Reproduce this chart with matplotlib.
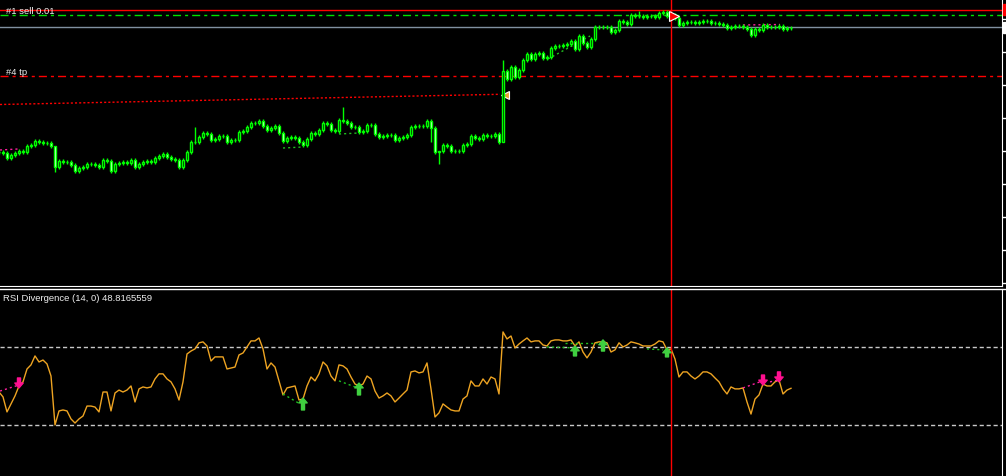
import numpy as np
import matplotlib
matplotlib.use("Agg")
import matplotlib.pyplot as plt
from matplotlib.patches import Rectangle
from matplotlib.lines import Line2D

W, H = 1006, 477

# close prices, one per bar (open = previous close)
closes = [
    1.1134, 1.1133, 1.1128, 1.1131, 1.1133, 1.1135, 1.1134, 1.1140, 1.1141, 1.1145,
    1.1144, 1.1143, 1.1143, 1.1140, 1.1119, 1.1125, 1.1124, 1.1124, 1.1121, 1.1115,
    1.1118, 1.1119, 1.1122, 1.1122, 1.1121, 1.1119, 1.1126, 1.1125, 1.1115, 1.1122,
    1.1123, 1.1124, 1.1123, 1.1126, 1.1119, 1.1122, 1.1124, 1.1125, 1.1124, 1.1128,
    1.1130, 1.1132, 1.1129, 1.1127, 1.1126, 1.1119, 1.1126, 1.1134, 1.1144, 1.1144,
    1.1149, 1.1153, 1.1152, 1.1146, 1.1147, 1.1150, 1.1150, 1.1144, 1.1146, 1.1146,
    1.1154, 1.1155, 1.1159, 1.1163, 1.1163, 1.1165, 1.1160, 1.1156, 1.1158, 1.1160,
    1.1153, 1.1145, 1.1148, 1.1149, 1.1148, 1.1144, 1.1141, 1.1147, 1.1153, 1.1152,
    1.1156, 1.1163, 1.1162, 1.1156, 1.1155, 1.1166, 1.1165, 1.1163, 1.1159, 1.1159,
    1.1154, 1.1155, 1.1161, 1.1161, 1.1152, 1.1149, 1.1150, 1.1151, 1.1151, 1.1146,
    1.1148, 1.1149, 1.1151, 1.1159, 1.1160, 1.1160, 1.1160, 1.1165, 1.1158, 1.1134,
    1.1135, 1.1141, 1.1140, 1.1135, 1.1135, 1.1135, 1.1141, 1.1142, 1.1150, 1.1148,
    1.1147, 1.1151, 1.1150, 1.1150, 1.1152, 1.1144, 1.1215, 1.1207, 1.1219, 1.1209,
    1.1216, 1.1226, 1.1232, 1.1227, 1.1232, 1.1233, 1.1228, 1.1229, 1.1238, 1.1240,
    1.1240, 1.1241, 1.1242, 1.1245, 1.1237, 1.1250, 1.1243, 1.1239, 1.1247, 1.1259,
    1.1259, 1.1259, 1.1259, 1.1254, 1.1256, 1.1265, 1.1264, 1.1262, 1.1271, 1.1270,
    1.1270, 1.1269, 1.1270, 1.1270, 1.1269, 1.1273, 1.1274, 1.1270, 1.1271, 1.1268,
    1.1261, 1.1263, 1.1264, 1.1264, 1.1263, 1.1264, 1.1265, 1.1265, 1.1263, 1.1263,
    1.1262, 1.1261, 1.1258, 1.1259, 1.1260, 1.1260, 1.1259, 1.1257, 1.1251, 1.1257,
    1.1256, 1.1261, 1.1259, 1.1259, 1.1259, 1.1260, 1.1257, 1.1258, 1.1258,
]

# bars with long shadows: index -> (high, low)
long_wicks = {
    14: (1.1140, 1.1114),
    49: (1.1159, 1.1142),
    86: (1.1179, 1.1163),
    108: (1.1167, 1.1144),
    110: (1.1135, 1.1122),
    126: (1.1226, 1.1144),
    160: (1.1275, 1.1268),
}

rsi = [
    46.9, 44.4, 36.7, 40.8, 44.9, 50.0, 52.1, 58.7, 60.8, 65.4,
    62.3, 63.3, 61.3, 55.1, 30.0, 37.2, 37.7, 37.2, 33.1, 31.0,
    33.1, 34.6, 39.7, 39.7, 39.2, 36.7, 46.9, 46.9, 37.2, 46.4,
    47.9, 46.9, 47.9, 50.0, 41.8, 48.5, 49.5, 49.0, 49.5, 53.6,
    56.2, 56.2, 53.6, 52.1, 48.5, 42.8, 52.1, 66.4, 67.9, 69.0,
    72.1, 72.6, 70.5, 62.8, 64.9, 64.9, 64.9, 58.7, 59.2, 59.7,
    65.9, 66.9, 70.0, 73.1, 73.1, 74.6, 69.0, 58.7, 61.8, 59.7,
    52.6, 45.4, 49.0, 49.5, 50.0, 42.8, 43.3, 50.0, 54.6, 52.6,
    56.2, 62.3, 60.3, 55.1, 52.6, 60.8, 60.3, 58.7, 54.6, 51.0,
    50.0, 51.0, 55.1, 53.6, 47.4, 43.8, 44.9, 46.4, 44.9, 41.8,
    43.8, 45.9, 47.9, 57.2, 57.7, 56.7, 57.2, 61.8, 48.5, 34.1,
    36.2, 40.8, 39.2, 37.7, 37.2, 37.2, 43.3, 44.9, 52.6, 50.0,
    50.0, 53.6, 51.0, 54.6, 53.6, 45.9, 77.7, 74.1, 75.6, 69.5,
    71.5, 73.1, 74.6, 72.6, 73.1, 73.1, 71.0, 70.5, 73.1, 73.6,
    73.6, 73.1, 73.1, 73.6, 70.5, 72.6, 67.4, 64.4, 67.4, 72.1,
    72.6, 72.6, 72.1, 67.4, 68.5, 72.1, 70.0, 71.0, 72.6, 72.1,
    71.5, 70.5, 70.5, 70.5, 71.5, 73.1, 72.6, 68.5, 69.0, 63.8,
    54.6, 57.2, 57.2, 55.1, 53.6, 55.1, 57.2, 57.2, 56.2, 54.1,
    52.1, 48.5, 45.9, 49.5, 48.5, 48.5, 49.0, 41.8, 35.6, 43.3,
    45.4, 51.0, 50.0, 50.0, 52.1, 53.1, 45.9, 47.9, 48.8,
]

# order / level lines
sell_price = 1.1276
sell_sl = 1.1271
bid_price = 1.1259
tp_price = 1.1210
entry_line = ([0.25, 125.25], [1.11815, 1.11917])
rsi_levels = [70, 30]
price_ticks = [1.1267, 1.1234, 1.1201, 1.1168, 1.1135, 1.1102, 1.1069, 1.1036, 1.1003]

# divergence trend lines (x index pairs, value pairs)
price_bull_lines = [([71, 76], [1.1138, 1.1139]), ([85, 90], [1.1152, 1.1153]),
                    ([137.25, 147.75], [1.1227, 1.1250])]
price_bear_lines = [([0.25, 4.75], [1.1136, 1.1137]), ([186, 195.25], [1.1261, 1.12615])]
rsi_bull_lines = [([71, 75.25], [45.9, 40.8]), ([85, 89], [52.6, 49.5]),
                  ([137, 144], [70.0, 69.5]), ([141.5, 149.5], [72.1, 72.1]),
                  ([162, 166], [69.0, 68.5])]
rsi_bear_lines = [([0.25, 5], [47.4, 50.5]), ([186, 190.25], [49.0, 52.1]),
                  ([192.75, 195], [52.1, 53.1])]
# arrows: (index, tail, tip)
up_arrows = [(76, 37.7, 43.8), (90, 45.4, 51.5), (144, 65.4, 70.5),
             (151, 67.9, 73.6), (167, 64.9, 69.5)]
down_arrows = [(5, 54.1, 49.0), (191, 55.6, 50.5), (195, 57.2, 52.1)]

cursor_x = 168.0
green = '#00ff00'
txt = '#f0f0f0'

fig = plt.figure(figsize=(W / 100, H / 100), dpi=100, facecolor='black')
ax = fig.add_axes([0, 190 / H, 1002 / W, 287 / H])
ax2 = fig.add_axes([0, 0, 1002 / W, 187 / H])

for a in (ax, ax2):
    a.set_facecolor('black')
    for s in a.spines.values():
        s.set_visible(False)
    a.set_xlim(0.25, 250.75)
    a.set_xticks([])

ax.set_ylim(1.1000, 1.1287)
ax2.set_ylim(3.85, 99.7)
ax2.set_yticks([])

ax.spines['right'].set_visible(True)
ax.spines['right'].set_color('white')
ax.spines['bottom'].set_visible(True)
ax.spines['bottom'].set_color('white')
ax2.spines['right'].set_visible(True)
ax2.spines['right'].set_color('white')
ax.yaxis.tick_right()
ax.set_yticks(price_ticks)
ax.tick_params(axis='y', colors='white', length=4, width=1, labelright=False)

# candles
closes = np.array(closes)
opens = np.concatenate([[closes[0]], closes[:-1]])
idx = np.arange(len(closes))
for i in idx:
    o, c = opens[i], closes[i]
    hi, lo = long_wicks.get(i, (max(o, c) + 0.0002, min(o, c) - 0.0002))
    ax.vlines(i, lo, hi, color=green, lw=1.0, zorder=3)
    face = 'white' if c < o else 'black'
    ax.add_patch(Rectangle((i - 0.32, min(o, c)), 0.64, abs(c - o),
                           facecolor=face, edgecolor=green, lw=1.0, zorder=4))

# order lines
ax.axhline(sell_price, color='#ff0000', lw=1)
ax.axhline(sell_sl, color='#00e000', lw=1, ls=(0, (5.8, 2.9, 2.2, 2.9)))
ax.axhline(bid_price, color='#8090a0', lw=1)
ax.axhline(tp_price, color='#ff0000', lw=1, ls=(0, (5.8, 2.9, 2.2, 2.9)))
ax.plot(*entry_line, color='#ff0000', lw=1, ls=(0, (1.5, 1.5)))
ax.plot(126.5, 1.11915, marker='<', ms=6, mfc='#e8a030', mec='white', mew=0.8)
ax.plot(168.8, 1.12705, marker='>', ms=7, mfc='#ff0000', mec='white', mew=0.8, zorder=6)

for xs, ys in price_bull_lines:
    ax.plot(xs, ys, color='#20c020', lw=1, ls=(0, (1.5, 2.2)))
for xs, ys in price_bear_lines:
    ax.plot(xs, ys, color='#ff20a0', lw=1, ls=(0, (1.5, 2.2)))

# RSI pane
for lv in rsi_levels:
    ax2.axhline(lv, color='#c8c8c8', lw=1, ls=(0, (3, 2)))
ax2.plot(idx, rsi, color='#eea422', lw=1)
for xs, ys in rsi_bull_lines:
    ax2.plot(xs, ys, color='#20c020', lw=1, ls=(0, (1.5, 2.2)))
for xs, ys in rsi_bear_lines:
    ax2.plot(xs, ys, color='#ff20a0', lw=1, ls=(0, (1.5, 2.2)))
arr = 'simple,head_width=0.6,head_length=0.35,tail_width=0.22'
for i, t0, t1 in up_arrows:
    ax2.annotate('', xy=(i, t1), xytext=(i, t0),
                 arrowprops=dict(arrowstyle=arr, color='#40d040', shrinkA=0, shrinkB=0))
for i, t0, t1 in down_arrows:
    ax2.annotate('', xy=(i, t1), xytext=(i, t0),
                 arrowprops=dict(arrowstyle=arr, color='#ff1090', shrinkA=0, shrinkB=0))

# crosshair
ax.axvline(cursor_x, color='#ff0000', lw=1)
ax2.axvline(cursor_x, color='#ff0000', lw=1)

# pane separator and price tags at the right edge
fig.add_artist(Line2D([0, 1], [1 - 289.5 / H] * 2, color='white', lw=1))
fig.patches.append(Rectangle((1003 / W, 1 - 16 / H), 3 / W, 11 / H, color='#ff0000',
                             transform=fig.transFigure, figure=fig))
fig.patches.append(Rectangle((1003 / W, 1 - 34 / H), 3 / W, 11 / H, color='white',
                             transform=fig.transFigure, figure=fig))

font = dict(family='Liberation Sans', fontsize=6.8, color=txt)
fig.text(6 / W, 1 - 14 / H, '#1 sell 0.01', **font)
fig.text(6 / W, 1 - 75 / H, '#4 tp', **font)
fig.text(3 / W, 1 - 301 / H, 'RSI Divergence (14, 0) 48.8165559', **font)

fig.savefig('out.png', dpi=100, facecolor='black')
